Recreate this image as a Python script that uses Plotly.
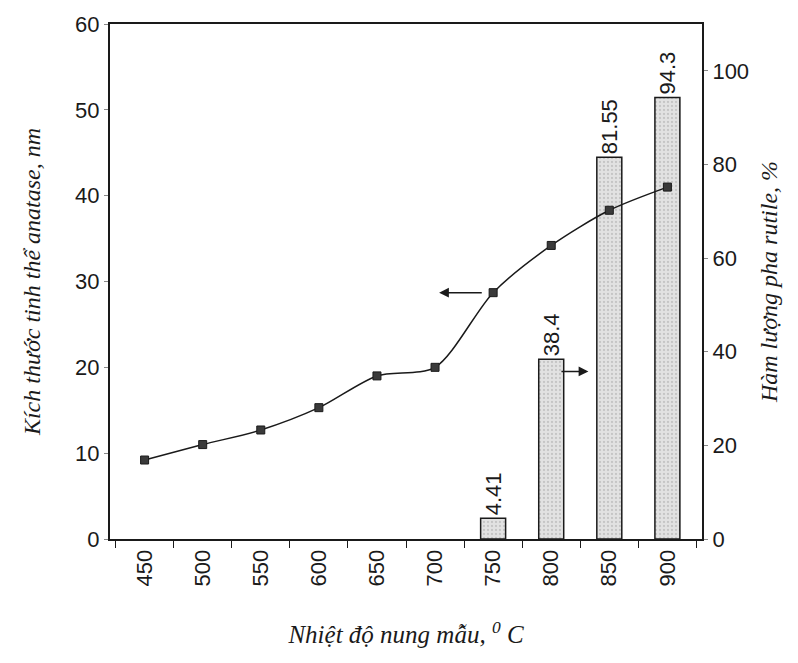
import plotly.graph_objects as go

temps = ["450", "500", "550", "600", "650", "700", "750", "800", "850", "900"]
crystal_size = [9.2, 11.0, 12.7, 15.3, 19.0, 20.0, 28.7, 34.2, 38.3, 41.0]
rutile = [None, None, None, None, None, None, 4.41, 38.4, 81.55, 94.3]
rutile_labels = ["", "", "", "", "", "", "4.41", "38.4", "81.55", "94.3"]

serif = "Liberation Serif"
sans = "Liberation Sans"
ink = "#1a1a1a"

fig = go.Figure()

fig.add_trace(go.Bar(
    x=temps, y=rutile, yaxis="y",
    width=0.43,
    marker=dict(color="#dcdcdc", line=dict(color=ink, width=1.5),
                pattern=dict(shape=".", fgcolor="#a8a8a8", bgcolor="#e2e2e2", size=4, solidity=0.25)),
    text=rutile_labels, textposition="outside", textangle=-90, constraintext="none",
    textfont=dict(family=sans, size=22, color=ink),
    cliponaxis=False, showlegend=False,
))

fig.add_trace(go.Scatter(
    x=temps, y=crystal_size, yaxis="y2",
    mode="lines+markers",
    line=dict(color=ink, width=1.5, shape="spline", smoothing=0.8),
    marker=dict(symbol="square", size=8, color="#3a3a3a", line=dict(color=ink, width=1)),
    showlegend=False,
))

fig.update_layout(
    width=798, height=663,
    margin=dict(l=110, r=96, t=20, b=124),
    paper_bgcolor="white", plot_bgcolor="white",
    xaxis=dict(
        type="category", tickson="boundaries",
        showline=True, linecolor=ink, linewidth=2, mirror=True,
        ticks="outside", ticklen=7, tickcolor=ink, tickwidth=1,
        tickangle=-90, tickfont=dict(family=sans, size=22, color=ink),
        showgrid=False, zeroline=False,
        title=dict(text="<i>Nhiệt độ nung mẫu, <sup>0</sup> C</i>",
                   font=dict(family=serif, size=25, color=ink), standoff=40),
    ),
    yaxis=dict(
        side="right", range=[0, 110], tickvals=[0, 20, 40, 60, 80, 100],
        showline=True, linecolor=ink, linewidth=2,
        ticks="outside", ticklen=4, tickcolor="#888",
        tickfont=dict(family=sans, size=22, color=ink),
        showgrid=False, zeroline=False,
        title=dict(text="<i>Hàm lượng pha rutile, %</i>",
                   font=dict(family=serif, size=24, color=ink), standoff=12),
    ),
    yaxis2=dict(
        side="left", overlaying="y", range=[0, 60], tickvals=[0, 10, 20, 30, 40, 50, 60],
        showline=True, linecolor=ink, linewidth=2,
        ticks="outside", ticklen=4, tickcolor="#888",
        tickfont=dict(family=sans, size=22, color=ink),
        showgrid=False, zeroline=False,
        title=dict(text="<i>Kích thước tinh thể anatase, nm</i>",
                   font=dict(family=serif, size=24, color=ink), standoff=28),
    ),
)

fig.add_annotation(
    x=5.07, y=crystal_size[6], xref="x", yref="y2",
    ax=5.83, ay=crystal_size[6], axref="x", ayref="y2",
    showarrow=True, arrowhead=2, arrowsize=1.3, arrowwidth=1.5, arrowcolor=ink, text="",
)
fig.add_annotation(
    x=7.64, y=35.8, xref="x", yref="y",
    ax=7.15, ay=35.8, axref="x", ayref="y",
    showarrow=True, arrowhead=2, arrowsize=1.3, arrowwidth=1.5, arrowcolor=ink, text="",
)

fig.write_html("out.html")
